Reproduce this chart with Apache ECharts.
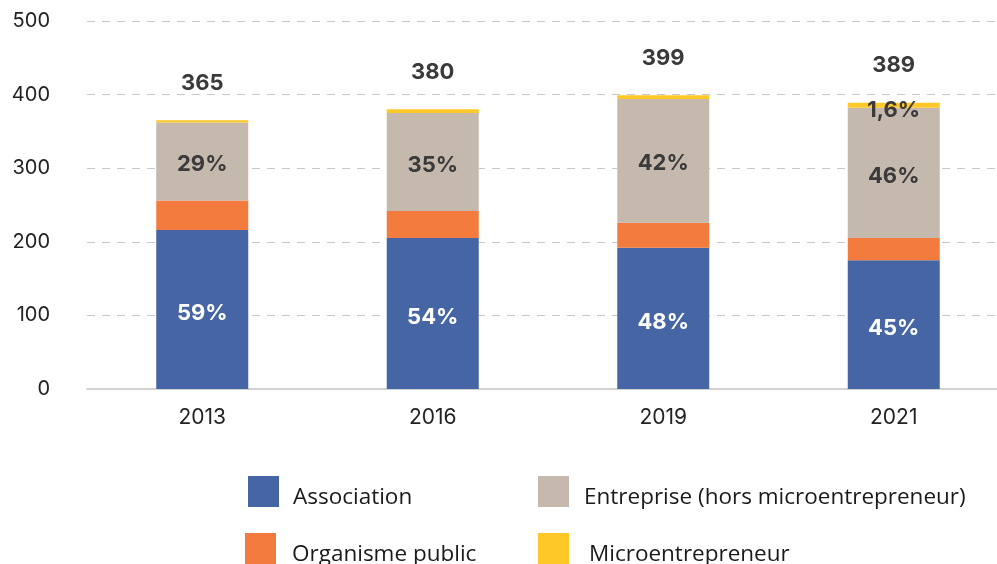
<!DOCTYPE html>
<html>
<head>
<meta charset="utf-8">
<script src="https://cdn.jsdelivr.net/npm/echarts@6/dist/echarts.min.js"></script>
<style>
  html, body { margin: 0; padding: 0; background: #fff; }
  #chart { width: 997px; height: 564px; }
</style>
</head>
<body>
<div id="chart"></div>
<script>
// données
const years = ['2013', '2016', '2019', '2021'];
const association = [216, 205, 192, 175];
const organisme = [40, 37, 34, 30];
const entreprise = [106, 133, 168, 177];
const micro = [3, 5, 5, 7];
const totals = [365, 380, 399, 389];
const assocPct = ['59%', '54%', '48%', '45%'];
const entPct = ['29%', '35%', '42%', '46%'];
const microPct = ['', '', '', '1,6%'];
const yTicks = [0, 100, 200, 300, 400, 500];

const colors = {
    association: '#4565a5',
    organisme: '#f47b3e',
    entreprise: '#c5b9ae',
    micro: '#fec928'
};

const font = 'Inter, "Noto Sans", sans-serif';
const legendFont = '"Open Sans", "Noto Sans", sans-serif';

// une légende par élément, placée à la main (2 colonnes x 2 lignes)
function legendItem(name, left, top, padLeft) {
    return {
        left: left,
        top: top,
        itemWidth: 31,
        itemHeight: 31,
        itemGap: 0,
        icon: 'rect',
        data: [name],
        selectedMode: false,
        formatter: '{t|{name}}',
        textStyle: {
            rich: {
                t: {
                    fontFamily: legendFont, fontSize: 22.5, color: '#1a1a1a',
                    padding: [12, 0, 0, padLeft]
                }
            }
        }
    };
}

const chart = echarts.init(document.getElementById('chart'));

const option = {
    animation: false,
    grid: {
        left: 87,
        width: 922,
        top: 21,
        bottom: 175,
        outerBoundsMode: 'none'
    },
    legend: [
        legendItem('Association', 243, 471, 9),
        legendItem('Organisme public', 240, 528, 11),
        legendItem('Entreprise (hors microentrepreneur)', 533, 471, 10),
        legendItem('Microentrepreneur', 533, 528, 15)
    ],
    xAxis: {
        type: 'category',
        data: years,
        axisTick: { show: false },
        axisLine: { show: true, lineStyle: { color: '#d2d2d2', width: 2 } },
        axisLabel: { fontFamily: font, fontSize: 21, color: '#222', margin: 18 }
    },
    yAxis: {
        type: 'value',
        min: yTicks[0],
        max: yTicks[yTicks.length - 1],
        interval: 100,
        axisLine: { show: false },
        axisTick: { show: false },
        axisLabel: { fontFamily: font, fontSize: 20, color: '#222', margin: 37 },
        splitLine: {
            lineStyle: { color: '#c8c8c8', width: 1, type: [8, 7] }
        }
    },
    series: [
        {
            name: 'Association',
            type: 'bar',
            stack: 'total',
            barWidth: 92,
            data: association,
            itemStyle: { color: colors.association },
            label: {
                show: true,
                position: 'inside',
                offset: [0, 4],
                formatter: p => assocPct[p.dataIndex],
                fontFamily: font, fontSize: 22, fontWeight: 'bold', color: '#fff'
            }
        },
        {
            name: 'Organisme public',
            type: 'bar',
            stack: 'total',
            data: organisme,
            itemStyle: { color: colors.organisme }
        },
        {
            name: 'Entreprise (hors microentrepreneur)',
            type: 'bar',
            stack: 'total',
            data: entreprise,
            itemStyle: { color: colors.entreprise },
            label: {
                show: true,
                position: 'inside',
                offset: [0, 3],
                formatter: p => entPct[p.dataIndex],
                fontFamily: font, fontSize: 22, fontWeight: 'bold', color: '#3a3a3a'
            }
        },
        {
            name: 'Microentrepreneur',
            type: 'bar',
            stack: 'total',
            data: micro,
            itemStyle: { color: colors.micro },
            label: {
                show: true,
                position: 'insideTop',
                distance: -3,
                formatter: p => microPct[p.dataIndex],
                fontFamily: font, fontSize: 22, fontWeight: 'bold', color: '#3a3a3a'
            }
        },
        {
            name: 'Total',
            type: 'bar',
            stack: 'total',
            data: totals.map(() => 0),
            itemStyle: { color: 'transparent' },
            label: {
                show: true,
                position: 'top',
                distance: 26,
                formatter: p => totals[p.dataIndex],
                fontFamily: font, fontSize: 22, fontWeight: 'bold', color: '#3a3a3a'
            }
        }
    ]
};

chart.setOption(option);
</script>
</body>
</html>
